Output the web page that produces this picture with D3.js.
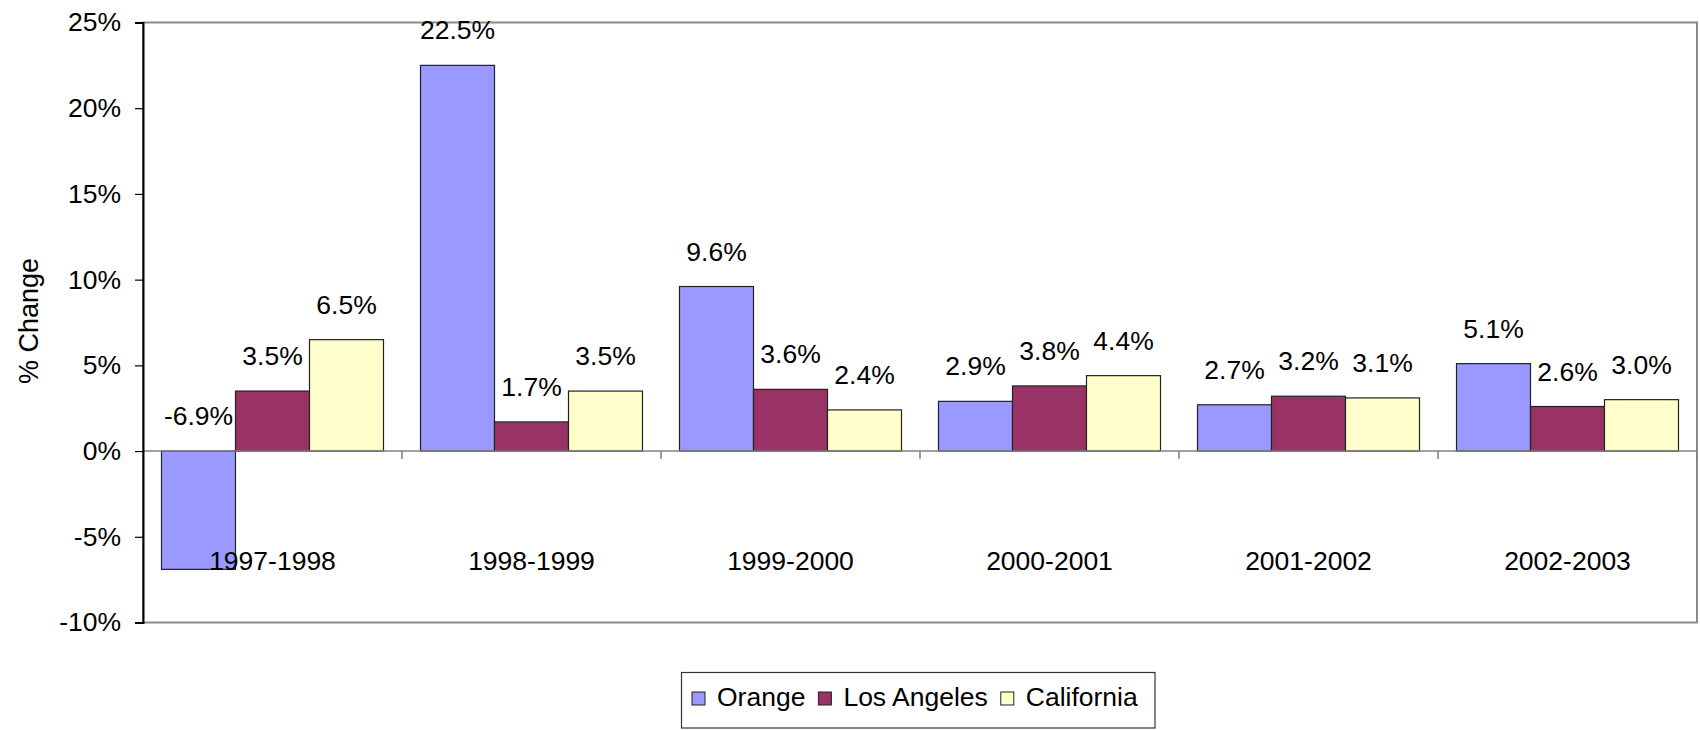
<!DOCTYPE html>
<html>
<head>
<meta charset="utf-8">
<script src="https://cdn.jsdelivr.net/npm/d3@7/dist/d3.min.js"></script>
<style>
  html, body { margin: 0; padding: 0; background: #fff; }
  svg { display: block; font-family: "Liberation Sans", Arial, sans-serif; }
</style>
</head>
<body>
<svg id="chart" width="1700" height="730"></svg>
<script>
const categories = ["1997-1998", "1998-1999", "1999-2000", "2000-2001", "2001-2002", "2002-2003"];
const seriesNames = ["Orange", "Los Angeles", "California"];
const orangeValues = [-6.9, 22.5, 9.6, 2.9, 2.7, 5.1];
const losAngelesValues = [3.5, 1.7, 3.6, 3.8, 3.2, 2.6];
const californiaValues = [6.5, 3.5, 2.4, 4.4, 3.1, 3.0];
const yTicks = [-10, -5, 0, 5, 10, 15, 20, 25];
const seriesColors = ["#9999FF", "#993366", "#FFFFCC"];

const seriesValues = [orangeValues, losAngelesValues, californiaValues];

const svg = d3.select("#chart");
const plotLeft = 143, plotRight = 1697, plotTop = 22.5, plotBottom = 622.5;
const fontSize = 26.5;

const y = d3.scaleLinear().domain([-10, 25]).range([plotBottom, plotTop]);
const x0 = d3.scaleBand().domain(categories).range([plotLeft, plotRight]).padding(0);
const x1 = d3.scaleBand().domain(seriesNames).range([0, x0.bandwidth()]).paddingInner(0).paddingOuter(0.25);

// plot border (top, right, bottom gray)
svg.append("rect")
  .attr("x", plotLeft).attr("y", plotTop)
  .attr("width", plotRight - plotLeft).attr("height", plotBottom - plotTop)
  .attr("fill", "none").attr("stroke", "#8a8a8a").attr("stroke-width", 2);

// bars
const groups = svg.append("g").selectAll("g")
  .data(categories)
  .join("g")
  .attr("transform", d => `translate(${x0(d)},0)`);

groups.selectAll("rect")
  .data((c, i) => seriesNames.map((s, k) => ({ s, k, v: seriesValues[k][i] })))
  .join("rect")
  .attr("x", d => x1(d.s))
  .attr("y", d => y(Math.max(0, d.v)))
  .attr("width", x1.bandwidth())
  .attr("height", d => Math.abs(y(d.v) - y(0)))
  .attr("fill", d => seriesColors[d.k])
  .attr("stroke", "#222")
  .attr("stroke-width", 1.2);

// zero axis line with category ticks
svg.append("line")
  .attr("x1", plotLeft).attr("x2", plotRight)
  .attr("y1", y(0)).attr("y2", y(0))
  .attr("stroke", "#808080").attr("stroke-width", 1.5);
svg.append("g").selectAll("line")
  .data(categories)
  .join("line")
  .attr("x1", d => x0(d) + x0.bandwidth())
  .attr("x2", d => x0(d) + x0.bandwidth())
  .attr("y1", y(0)).attr("y2", y(0) + 8)
  .attr("stroke", "#808080").attr("stroke-width", 1.5);

// data labels
groups.selectAll("text.lbl")
  .data((c, i) => seriesNames.map((s, k) => ({ s, k, v: seriesValues[k][i] })))
  .join("text")
  .attr("class", "lbl")
  .attr("x", d => x1(d.s) + x1.bandwidth() / 2)
  .attr("y", d => y(Math.max(0, d.v)) - 26)
  .attr("text-anchor", "middle")
  .attr("font-size", fontSize)
  .attr("fill", "#000")
  .text(d => d.v.toFixed(1) + "%");

// category labels
svg.append("g").selectAll("text")
  .data(categories)
  .join("text")
  .attr("x", d => x0(d) + x0.bandwidth() / 2)
  .attr("y", y(0) + 119)
  .attr("text-anchor", "middle")
  .attr("font-size", fontSize)
  .attr("fill", "#000")
  .text(d => d);

// y axis
const yAxis = d3.axisLeft(y).tickValues(yTicks).tickSize(8).tickPadding(14)
  .tickFormat(d => d + "%");
const ya = svg.append("g").attr("transform", `translate(${plotLeft},0)`).call(yAxis);
ya.select(".domain").attr("stroke", "#000").attr("stroke-width", 2);
ya.selectAll(".tick line").attr("stroke", "#000").attr("stroke-width", 1.2);
ya.selectAll(".tick text")
  .attr("font-size", fontSize)
  .attr("font-family", "Liberation Sans, Arial, sans-serif")
  .attr("fill", "#000");

// y axis title
svg.append("text")
  .attr("transform", `translate(38,321) rotate(-90)`)
  .attr("text-anchor", "middle")
  .attr("font-size", 27)
  .attr("fill", "#000")
  .text("% Change");

// legend
const legend = svg.append("g");
legend.append("rect")
  .attr("x", 681.5).attr("y", 672.5)
  .attr("width", 473.5).attr("height", 55.5)
  .attr("fill", "#fff").attr("stroke", "#333").attr("stroke-width", 1.2);
let lx = 692;
seriesNames.forEach((name, k) => {
  legend.append("rect")
    .attr("x", lx).attr("y", 692)
    .attr("width", 13).attr("height", 13)
    .attr("fill", seriesColors[k]).attr("stroke", "#222").attr("stroke-width", 1);
  const t = legend.append("text")
    .attr("x", lx + 25).attr("y", 706)
    .attr("font-size", fontSize)
    .attr("fill", "#000")
    .text(name);
  lx = lx + 25 + t.node().getComputedTextLength() + 13;
});
</script>
</body>
</html>
